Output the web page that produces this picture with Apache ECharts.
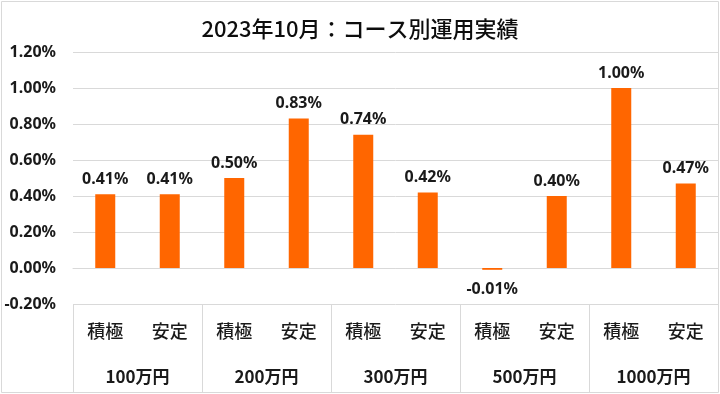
<!DOCTYPE html>
<html><head><meta charset="utf-8">
<script src="https://cdn.jsdelivr.net/npm/echarts@6/dist/echarts.min.js"></script>
<style>html,body{margin:0;padding:0;background:#fff}#c{width:720px;height:394px}</style>
</head><body><div id="c"></div>
<script>
const title = '2023年10月：コース別運用実績';
const courses = ['積極','安定','積極','安定','積極','安定','積極','安定','積極','安定'];
const groups = ['100万円','200万円','300万円','500万円','1000万円'];
const values = [0.41, 0.41, 0.50, 0.83, 0.74, 0.42, -0.01, 0.40, 1.00, 0.47];
const yMin = -0.2, yMax = 1.2, yStep = 0.2;

const chart = echarts.init(document.getElementById('c'));
const font = "'Noto Sans', sans-serif";
const cjk = "'Noto Sans CJK JP', sans-serif";
chart.setOption({
  animation: false,
  title: {text: title, left: 'center', top: 13,
    textStyle: {fontFamily: cjk, fontSize: 22, fontWeight: 500, color: '#0d0d0d'}},
  grid: {left: 73, right: 2, top: 52, bottom: 90},
  graphic: [{type: 'rect', shape: {x: 1.5, y: 1.5, width: 717, height: 391},
    style: {fill: 'none', stroke: '#d9d9d9', lineWidth: 1}, silent: true, z: -1}],
  xAxis: [
    {type: 'category', data: courses, position: 'bottom',
      axisLine: {show: true, lineStyle: {color: '#d9d9d9'}},
      axisTick: {show: false},
      axisLabel: {margin: 18, fontFamily: cjk, fontSize: 18, color: '#1a1a1a', fontWeight: 500}},
    {type: 'category', data: groups, position: 'bottom',
      axisLine: {show: false},
      axisTick: {show: true, length: 88, lineStyle: {color: '#d9d9d9'}},
      axisLabel: {margin: 64, fontFamily: cjk, fontSize: 17, color: '#1a1a1a', fontWeight: 'bold'}}
  ],
  yAxis: {type: 'value', min: yMin, max: yMax, interval: yStep,
    axisLine: {show: false}, axisTick: {show: false},
    splitLine: {lineStyle: {color: '#d9d9d9'}},
    axisLabel: {margin: 17, fontFamily: font, fontSize: 16, fontWeight: 'bold', color: '#1a1a1a',
      formatter: v => v.toFixed(2) + '%'}},
  series: [{type: 'bar', xAxisIndex: 0, barWidth: 20,
    itemStyle: {color: '#FF6600'},
    data: values.map(v => ({value: v, label: {position: v < 0 ? 'bottom' : 'top', distance: v < 0 ? 12 : 7}})),
    label: {show: true, fontFamily: font, fontSize: 16, fontWeight: 'bold', color: '#1a1a1a',
      formatter: p => p.value.toFixed(2) + '%'}}]
});
</script></body></html>
